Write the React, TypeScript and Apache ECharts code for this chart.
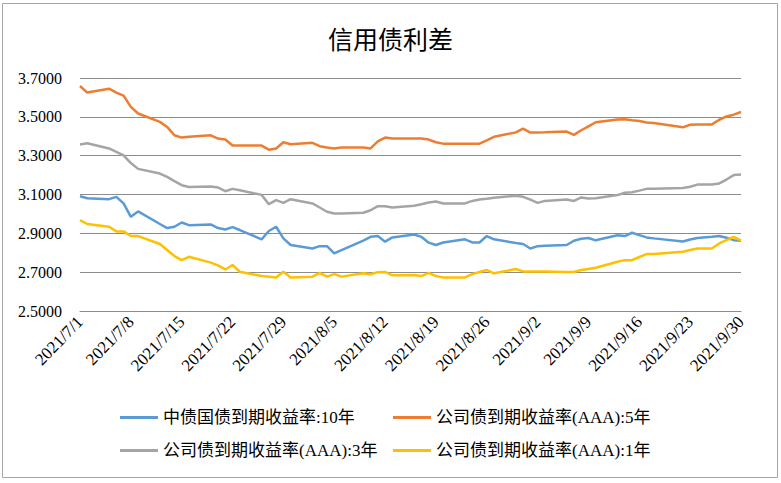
import React, { useEffect, useRef } from "react";
import * as echarts from "echarts";

const titleText = "信用债利差";
const seriesNames = [
  "中债国债到期收益率:10年",
  "公司债到期收益率(AAA):5年",
  "公司债到期收益率(AAA):3年",
  "公司债到期收益率(AAA):1年",
];
const seriesColors = ["#5B9BD5", "#ED7D31", "#A5A5A5", "#FFC000"];

// trading days (month/day) in 2021
const tradeDays = [
  "7/1", "7/2", "7/5", "7/6", "7/7", "7/8", "7/9", "7/12", "7/13", "7/14", "7/15", "7/16",
  "7/19", "7/20", "7/21", "7/22", "7/23", "7/26", "7/27", "7/28", "7/29", "7/30",
  "8/2", "8/3", "8/4", "8/5", "8/6", "8/9", "8/10", "8/11", "8/12", "8/13",
  "8/16", "8/17", "8/18", "8/19", "8/20", "8/23", "8/24", "8/25", "8/26", "8/27", "8/30", "8/31",
  "9/1", "9/2", "9/3", "9/6", "9/7", "9/8", "9/9", "9/10", "9/13", "9/14", "9/15", "9/16", "9/17",
  "9/18", "9/22", "9/23", "9/24", "9/26", "9/27", "9/28", "9/29", "9/30",
];

const gov10Y = [
  3.091, 3.081, 3.076, 3.088, 3.054, 2.985, 3.013, 2.948, 2.927, 2.934, 2.956, 2.942,
  2.946, 2.927, 2.92, 2.932, 2.917, 2.869, 2.912, 2.934, 2.874, 2.84,
  2.822, 2.834, 2.834, 2.797, 2.814, 2.862, 2.882, 2.886, 2.857, 2.879,
  2.894, 2.882, 2.852, 2.84, 2.853, 2.869, 2.853, 2.853, 2.886, 2.869, 2.85, 2.845,
  2.822, 2.834, 2.836, 2.84, 2.862, 2.872, 2.876, 2.864, 2.89, 2.886, 2.903, 2.891, 2.879,
  2.874, 2.858, 2.868, 2.876, 2.882, 2.886, 2.877, 2.865, 2.862,
];
const corp5Y = [
  3.659, 3.625, 3.645, 3.625, 3.609, 3.551, 3.517, 3.474, 3.448, 3.405, 3.393, 3.397,
  3.405, 3.388, 3.383, 3.352, 3.352, 3.352, 3.331, 3.337, 3.369, 3.359,
  3.366, 3.349, 3.342, 3.337, 3.342, 3.342, 3.337, 3.374, 3.393, 3.388,
  3.388, 3.388, 3.383, 3.369, 3.362, 3.362, 3.362, 3.362, 3.379, 3.397, 3.42, 3.439,
  3.419, 3.419, 3.42, 3.424, 3.407, 3.431, 3.451, 3.472, 3.486, 3.487, 3.482, 3.479, 3.471,
  3.468, 3.446, 3.459, 3.461, 3.461, 3.485, 3.502, 3.511, 3.525,
];
const corp3Y = [
  3.357, 3.364, 3.337, 3.32, 3.302, 3.262, 3.232, 3.208, 3.191, 3.169, 3.148, 3.139,
  3.141, 3.136, 3.117, 3.129, 3.122, 3.098, 3.05, 3.071, 3.057, 3.076,
  3.054, 3.033, 3.011, 3.002, 3.002, 3.006, 3.019, 3.04, 3.04, 3.033,
  3.042, 3.05, 3.059, 3.064, 3.054, 3.054, 3.067, 3.074, 3.078, 3.083, 3.094, 3.088,
  3.074, 3.057, 3.067, 3.074, 3.067, 3.085, 3.079, 3.081, 3.097, 3.109, 3.112, 3.12, 3.129,
  3.129, 3.134, 3.14, 3.151, 3.151, 3.157, 3.177, 3.2, 3.203,
];
const corp1Y = [
  2.968, 2.948, 2.934, 2.91, 2.91, 2.886, 2.886, 2.845, 2.814, 2.783, 2.762, 2.779,
  2.749, 2.735, 2.714, 2.737, 2.702, 2.68, 2.677, 2.673, 2.702, 2.673,
  2.677, 2.696, 2.677, 2.69, 2.677, 2.694, 2.689, 2.7, 2.701, 2.684,
  2.685, 2.68, 2.696, 2.68, 2.673, 2.673, 2.69, 2.701, 2.711, 2.694, 2.716, 2.704,
  2.704, 2.704, 2.704, 2.701, 2.701, 2.711, 2.716, 2.723, 2.754, 2.762, 2.762, 2.778, 2.793,
  2.793, 2.805, 2.814, 2.822, 2.822, 2.848, 2.865, 2.882, 2.862,
];

const yMin = 2.5;
const yMax = 3.7;
const yStep = 0.2;

function buildCalendar(): string[] {
  const out: string[] = [];
  const monthDays: [number, number][] = [[7, 31], [8, 31], [9, 30]];
  for (const [m, n] of monthDays) {
    for (let d = 1; d <= n; d++) out.push(`${m}/${d}`);
  }
  return out;
}

export default function App() {
  const ref = useRef<HTMLDivElement>(null);
  useEffect(() => {
    if (!ref.current) return;
    const chart = echarts.init(ref.current, undefined, { renderer: "svg" });
    const calendar = buildCalendar();
    const allSeries = [gov10Y, corp5Y, corp3Y, corp1Y];
    const mapData = (vals: number[]) =>
      calendar.map((c) => {
        const i = tradeDays.indexOf(c);
        return i >= 0 ? vals[i] : null;
      });
    const legendPos = [
      { left: 120, top: 409 },
      { left: 393, top: 409 },
      { left: 120, top: 442 },
      { left: 393, top: 442 },
    ];
    chart.setOption({
      animation: false,
      backgroundColor: "#ffffff",
      title: {
        text: titleText,
        left: "center",
        top: 20,
        textStyle: {
          fontFamily: "Noto Sans CJK SC",
          fontSize: 25,
          fontWeight: "normal",
          color: "#000",
        },
      },
      graphic: [
        {
          type: "rect",
          shape: { x: 2.5, y: 3.5, width: 775, height: 474 },
          style: { fill: "none", stroke: "#a6a6a6", lineWidth: 1 },
          silent: true,
        },
      ],
      legend: seriesNames.map((n, i) => ({
        data: [n],
        left: legendPos[i].left,
        top: legendPos[i].top,
        padding: 0,
        icon: "rect",
        itemWidth: 38,
        itemHeight: 3,
        itemGap: 4,
        textStyle: {
          fontFamily: "'Liberation Serif', 'Noto Sans CJK SC'",
          fontSize: 17,
          color: "#000",
          padding: [0, 0, 0, 0],
        },
      })),
      grid: { left: 80, right: 40, top: 78, bottom: 172, containLabel: false },
      xAxis: {
        type: "category",
        boundaryGap: false,
        data: calendar,
        axisLine: { show: true, lineStyle: { color: "#8c8c8c", width: 1 } },
        axisTick: { show: false },
        axisLabel: {
          interval: 6,
          rotate: 46,
          margin: 8,
          fontFamily: "'Liberation Serif'",
          fontSize: 17,
          color: "#000",
          formatter: (v: string) => `2021/${v}`,
        },
        splitLine: { show: false },
      },
      yAxis: {
        type: "value",
        min: yMin,
        max: yMax,
        interval: yStep,
        axisLine: { show: false },
        axisTick: { show: false },
        axisLabel: {
          margin: 18,
          fontFamily: "'Liberation Serif'",
          fontSize: 16,
          color: "#000",
          formatter: (v: number) => v.toFixed(4),
        },
        splitLine: { show: true, lineStyle: { color: "#8c8c8c", width: 1 } },
      },
      series: seriesNames.map((n, i) => ({
        name: n,
        type: "line",
        data: mapData(allSeries[i]),
        connectNulls: true,
        showSymbol: false,
        symbol: "none",
        lineStyle: { color: seriesColors[i], width: 2.5 },
        itemStyle: { color: seriesColors[i] },
      })),
    });
    return () => chart.dispose();
  }, []);
  return (
    <div
      ref={ref}
      style={{ position: "absolute", left: 0, top: 0, width: 781, height: 483 }}
    />
  );
}
